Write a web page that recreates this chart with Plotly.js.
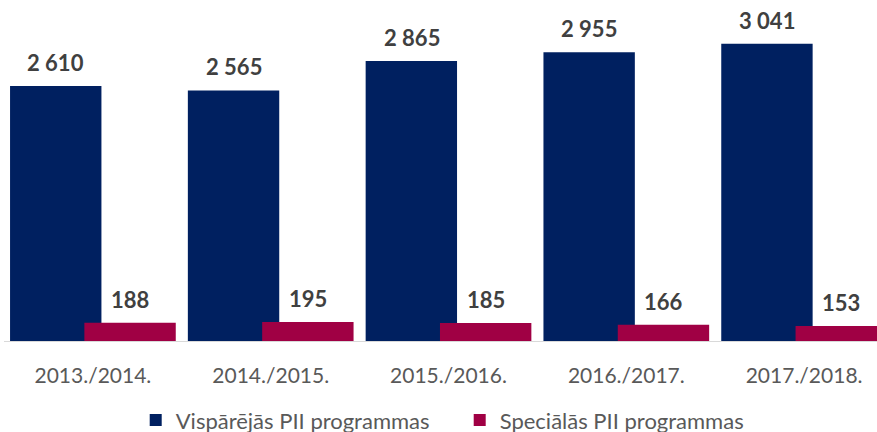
<!DOCTYPE html>
<html>
<head>
<meta charset="utf-8">
<script src="https://cdn.plot.ly/plotly-3.0.1.min.js"></script>
<style>html,body{margin:0;padding:0;background:#fff;}#chart{width:877px;height:432px;}</style>
</head>
<body>
<div id="chart"></div>
<script>
const categories = ['2013./2014.', '2014./2015.', '2015./2016.', '2016./2017.', '2017./2018.'];
const seriesNames = ['Vispārējās PII programmas', 'Speciālās PII programmas'];
const general = [2610, 2565, 2865, 2955, 3041];
const special = [188, 195, 185, 166, 153];

const blue = '#002060';
const red = '#A00044';
const labelFont = {family: 'Lato, "Open Sans", sans-serif', size: 22, color: '#404040', weight: 'bold'};

const traces = [
  {type: 'bar', name: seriesNames[0], x: categories, y: general,
   marker: {color: blue}, width: 0.514, offset: -0.466, hoverinfo: 'skip'},
  {type: 'bar', name: seriesNames[1], x: categories, y: special,
   marker: {color: red}, width: 0.514, offset: -0.048, hoverinfo: 'skip'}
];

const fmt = v => String(v).replace(/\B(?=(\d{3})+(?!\d))/g, ' ');
const annotations = [];
categories.forEach((c, i) => {
  annotations.push({x: c, y: general[i], text: '<b>' + fmt(general[i]) + '</b>', showarrow: false,
    xanchor: 'center', yanchor: 'bottom', xshift: -37, yshift: 8, font: labelFont});
  annotations.push({x: c, y: special[i], text: '<b>' + fmt(special[i]) + '</b>', showarrow: false,
    xanchor: 'center', yanchor: 'bottom', xshift: 37, yshift: 8, font: labelFont});
});

const layout = {
  width: 877, height: 432,
  margin: {l: 4, r: 0, t: 0, b: 91, autoexpand: false},
  paper_bgcolor: '#fff', plot_bgcolor: '#fff',
  barmode: 'overlay',
  showlegend: true,
  legend: {orientation: 'h', x: 0.522, xanchor: 'center', y: -0.232, yanchor: 'middle',
    entrywidth: 279, entrywidthmode: 'pixels',
    font: {family: 'Lato, "Open Sans", sans-serif', size: 22, color: '#595959'}, traceorder: 'normal'},
  xaxis: {type: 'category', range: [-0.5, 4.41], showline: true, linecolor: '#D9D9D9', linewidth: 1,
    ticks: '', showgrid: false, zeroline: false, ticklabelstandoff: 16,
    tickfont: {family: 'Lato, "Open Sans", sans-serif', size: 21, color: '#595959'}},
  yaxis: {range: [0, 3490], visible: false, showgrid: false, zeroline: false},
  annotations: annotations
};

Plotly.newPlot('chart', traces, layout, {displayModeBar: false, staticPlot: true});
</script>
</body>
</html>
